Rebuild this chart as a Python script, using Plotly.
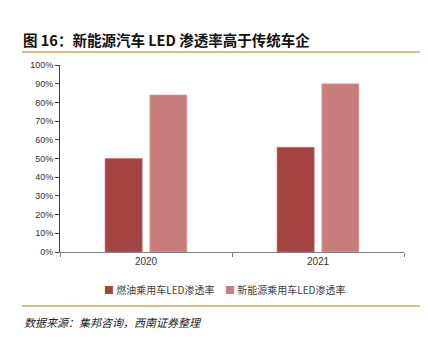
import plotly.graph_objects as go

years = ["2020", "2021"]
ice_led = [50, 56]        # 燃油乘用车LED渗透率 (%)
nev_led = [84, 90]        # 新能源乘用车LED渗透率 (%)
series_names = ["燃油乘用车LED渗透率", "新能源乘用车LED渗透率"]
series_colors = ["#A54343", "#C97C7C"]
y_ticks = list(range(0, 101, 10))
y_tick_text = [f"{v}%" for v in y_ticks]

W, H = 428, 338
L, R, T, B = 60, 24, 65, 86
PW, PH = W - L - R, H - T - B


def px_x(x):
    return (x - L) / PW


def px_y(y):
    return (H - B - y) / PH


fig = go.Figure()
fig.add_trace(go.Bar(name=series_names[0], x=years, y=ice_led, showlegend=False,
                     marker=dict(color=series_colors[0], line=dict(color="#C97070", width=0.6))))
fig.add_trace(go.Bar(name=series_names[1], x=years, y=nev_led, showlegend=False,
                     marker=dict(color=series_colors[1], line=dict(color="#E0A8A8", width=0.6))))

cjk = "Noto Sans CJK SC"
fig.update_layout(
    width=W, height=H,
    margin=dict(l=L, r=R, t=T, b=B),
    paper_bgcolor="white", plot_bgcolor="white",
    barmode="group", bargap=0.48, bargroupgap=0.17,
    font=dict(family=cjk, size=9, color="#333333"),
    showlegend=False,
    xaxis=dict(showline=True, linecolor="#7f7f7f", linewidth=1.2,
               ticks="outside", ticklen=4, tickcolor="#7f7f7f",
               tickson="boundaries", showgrid=False,
               tickfont=dict(family="Liberation Sans", size=10, color="#333333")),
    yaxis=dict(range=[0, 100], tickvals=y_ticks, ticktext=y_tick_text,
               showline=True, linecolor="#404040", linewidth=1,
               ticks="outside", ticklen=4, tickcolor="#404040",
               showgrid=False, zeroline=False,
               tickfont=dict(family="Liberation Sans", size=9, color="#333333")),
)

# Legend drawn as text entries with coloured square markers
for name, color, xpos in zip(series_names, series_colors, (102, 223)):
    fig.add_annotation(text=f"<span style='color:{color}'>■</span> {name}",
                       xref="paper", yref="paper", x=px_x(xpos), xanchor="left",
                       y=px_y(289), yanchor="middle", showarrow=False,
                       font=dict(family=cjk, size=10, color="#404040"))

# Title and source lines
fig.add_annotation(text="<b>图 16：新能源汽车 LED 渗透率高于传统车企</b>",
                   xref="paper", yref="paper", x=px_x(21), xanchor="left",
                   y=px_y(40), yanchor="middle", showarrow=False,
                   font=dict(family=cjk, size=14.5, color="#111111"))
fig.add_annotation(text="<i>数据来源：集邦咨询，西南证券整理</i>",
                   xref="paper", yref="paper", x=px_x(22), xanchor="left",
                   y=px_y(322), yanchor="middle", showarrow=False,
                   font=dict(family=cjk, size=11, color="#222222"))

for yline in (52, 306):
    fig.add_shape(type="line", xref="paper", yref="paper",
                  x0=px_x(22), x1=px_x(420), y0=px_y(yline), y1=px_y(yline),
                  line=dict(color="#D9A35A", width=1.5))

fig.write_html("out.html")
